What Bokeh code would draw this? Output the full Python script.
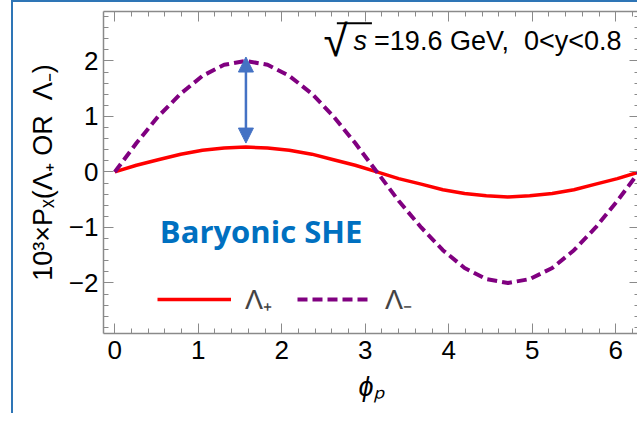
import numpy as np
from bokeh.plotting import figure
from bokeh.models import (Range1d, SingleIntervalTicker, LinearAxis, Legend,
                          LegendItem, Arrow, NormalHead)
from bokeh.core.properties import value
from bokeh.embed import file_html
from bokeh.resources import INLINE

# azimuthal angle phi_p (rad) and polarisation values
phi = [0.0, 0.26, 0.52, 0.79, 1.05, 1.31, 1.57, 1.83, 2.09, 2.36, 2.62, 2.88, 3.14,
       3.40, 3.67, 3.93, 4.19, 4.45, 4.71, 4.97, 5.24, 5.50, 5.76, 6.02, 6.28]
lam_plus = [0.0, 0.12, 0.22, 0.32, 0.39, 0.43, 0.45, 0.43, 0.39, 0.32, 0.22, 0.12, 0.0,
            -0.12, -0.22, -0.32, -0.39, -0.43, -0.45, -0.43, -0.39, -0.32, -0.22, -0.12, 0.0]
lam_minus = [0.0, 0.52, 1.0, 1.41, 1.73, 1.93, 2.0, 1.93, 1.73, 1.41, 1.0, 0.52, 0.0,
             -0.52, -1.0, -1.41, -1.73, -1.93, -2.0, -1.93, -1.73, -1.41, -1.0, -0.52, 0.0]

x_ticks = [0, 1, 2, 3, 4, 5, 6]
x_tick_labels = ["0", "1", "2", "3", "4", "5", "6"]
y_ticks = [-2, -1, 0, 1, 2]
y_tick_labels = ["\u22122", "\u22121", "0", "1", "2"]

legend_labels = ["\u039b\u208a", "\u039b\u208b"]

# the double arrow between the two maxima
arrow_phi = 1.571
arrow_low = 0.52
arrow_high = 2.07

GRAY = "#8a8a8a"
FONT = "Liberation Sans"

p = figure(width=626, height=413, x_range=Range1d(-0.135, 6.285), y_range=Range1d(-2.91, 2.89),
           x_axis_type=None, y_axis_type=None, output_backend="svg", toolbar_location=None,
           min_border_left=90, min_border_top=9, min_border_bottom=82, min_border_right=0)
p.outline_line_color = None
p.margin = (0, 0, 0, 11)
p.styles = {"border-left": "2px solid #2E75B6", "border-top": "2px solid #2E75B6"}


def make_axis(ticks, labels, show_labels):
    ax = LinearAxis(ticker=SingleIntervalTicker(interval=1, num_minor_ticks=5))
    ax.major_label_overrides = {float(t): l for t, l in zip(ticks, labels)}
    ax.axis_line_color = GRAY
    ax.axis_line_width = 1.5
    ax.major_tick_line_color = GRAY
    ax.minor_tick_line_color = GRAY
    ax.major_tick_in = 10
    ax.major_tick_out = 0
    ax.minor_tick_in = 5
    ax.minor_tick_out = 0
    ax.major_label_text_font = FONT
    ax.major_label_text_font_size = "26px"
    ax.major_label_text_color = "black"
    ax.axis_label_text_font = FONT
    ax.axis_label_text_font_size = "27px"
    ax.axis_label_text_color = "black"
    ax.axis_label_text_font_style = "normal"
    if not show_labels:
        # mirror axis: ticks only
        ax.major_label_text_font_size = "1px"
        ax.major_label_text_color = None
        ax.major_label_standoff = 0
    return ax


bottom = make_axis(x_ticks, x_tick_labels, True)
bottom.major_label_standoff = 7
bottom.axis_label = "\u03d5\u209a"
bottom.axis_label_text_font_style = "italic"
bottom.axis_label_standoff = 10
p.add_layout(bottom, "below")

left = make_axis(y_ticks, y_tick_labels, True)
left.major_label_standoff = 5
left.axis_label = "10\u00b3\u00d7P\u2093(\u039b\u208a OR\u00a0 \u039b\u208b)"
left.axis_label_standoff = 8
p.add_layout(left, "left")

p.add_layout(make_axis(x_ticks, x_tick_labels, False), "above")
p.add_layout(make_axis(y_ticks, y_tick_labels, False), "right")

# curves
r_plus = p.line(phi, lam_plus, line_color="#ff0000", line_width=3.5)
r_minus = p.line(phi, lam_minus, line_color="#800080", line_width=4, line_dash="10 5")

# arrow
head = dict(size=15, fill_color="#4472C4", line_color="#4472C4")
p.add_layout(Arrow(start=NormalHead(**head), end=NormalHead(**head),
                   x_start=arrow_phi, y_start=arrow_low, x_end=arrow_phi, y_end=arrow_high,
                   line_color="#4472C4", line_width=2.5))

# energy / rapidity note
p.text(x=[2.5], y=[1.92], text=["\u221a"], text_font=value(FONT),
       text_font_size="44px", text_color="black")
p.segment(x0=[2.66], y0=[2.68], x1=[3.08], y1=[2.68], line_color="black", line_width=2)
p.text(x=[2.86], y=[2.083], text=["s"], text_font=value(FONT), text_font_size="27px",
       text_font_style="italic", text_color="black")
p.text(x=[3.106], y=[2.083], text=["=19.6 GeV,\u00a0 0<y<0.8"], text_font=value(FONT),
       text_font_size="27px", text_color="black")

p.text(x=[0.54], y=[-1.438], text=["Baryonic SHE"], text_font=value("Open Sans"),
       text_font_size="31px", text_font_style="bold", text_color="#0070C0")

legend = Legend(items=[LegendItem(label=legend_labels[0], renderers=[r_plus]),
                       LegendItem(label=legend_labels[1], renderers=[r_minus])],
                orientation="horizontal", location=(54, 16))
legend.glyph_width = 74
legend.glyph_height = 20
legend.label_standoff = 14
legend.spacing = 25
legend.padding = 0
legend.margin = 0
legend.border_line_alpha = 0
legend.background_fill_alpha = 0
legend.label_text_font = FONT
legend.label_text_font_size = "27px"
p.add_layout(legend)

open("out.html", "w").write(file_html(p, INLINE))
